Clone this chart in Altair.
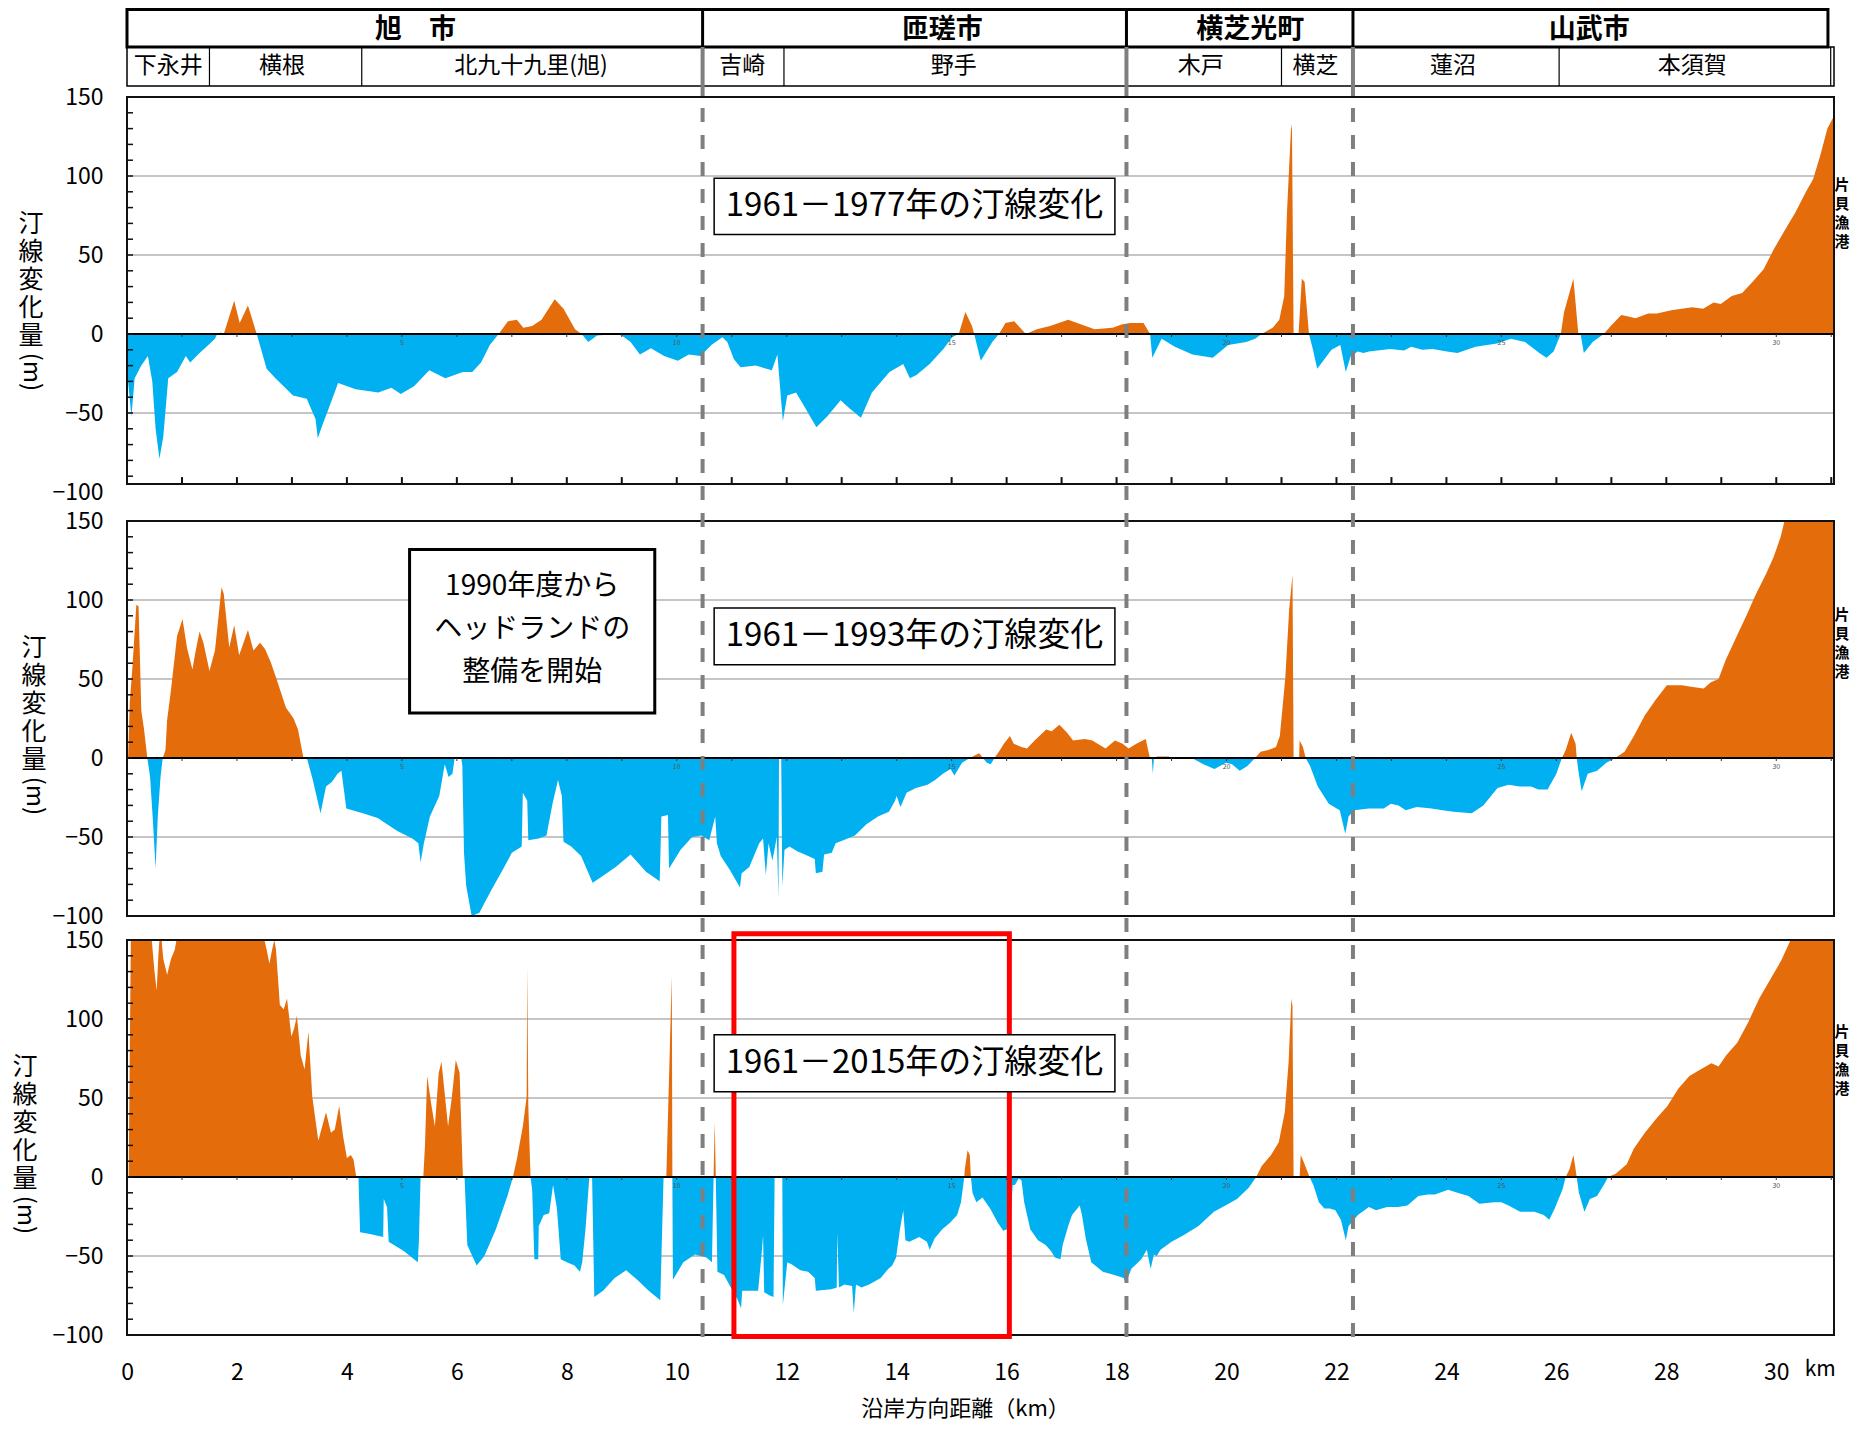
import altair as alt
import pandas as pd

# ---------------- data (km along coast, shoreline change in m) ----------------
P1_KM = [0.0, 0.02, 0.08, 0.14, 0.26, 0.38, 0.46, 0.52, 0.59, 0.66,
         0.75, 0.91, 1.07, 1.15, 1.32, 1.48, 1.6, 1.64, 1.7, 1.76,
         1.95, 2.05, 2.2, 2.36, 2.54, 2.7, 3.02, 3.27, 3.43, 3.47,
         3.55, 3.67, 3.84, 4.16, 4.57, 4.81, 4.98, 5.22, 5.5, 5.79,
         6.11, 6.28, 6.44, 6.6, 6.76, 6.93, 7.09, 7.21, 7.37, 7.54,
         7.78, 7.94, 8.15, 8.27, 8.39, 8.55, 8.88, 9.0, 9.16, 9.33,
         9.53, 9.77, 10.02, 10.22, 10.43, 10.63, 10.83, 10.92, 11.04, 11.16,
         11.44, 11.73, 11.83, 11.93, 12.01, 12.17, 12.34, 12.54, 12.74, 12.98,
         13.14, 13.35, 13.55, 13.87, 14.12, 14.24, 14.36, 14.6, 14.85, 15.01,
         15.13, 15.25, 15.37, 15.41, 15.53, 15.74, 15.86, 15.98, 16.14, 16.35,
         16.55, 16.79, 17.12, 17.36, 17.6, 17.93, 18.09, 18.25, 18.49, 18.61,
         18.65, 18.82, 19.06, 19.38, 19.75, 20.03, 20.36, 20.52, 20.64, 20.84,
         20.96, 21.05, 21.1, 21.17, 21.19, 21.22, 21.31, 21.37, 21.42, 21.5,
         21.57, 21.65, 21.78, 21.91, 22.07, 22.17, 22.26, 22.39, 22.49, 22.59,
         22.98, 23.23, 23.36, 23.56, 23.75, 24.01, 24.2, 24.53, 24.92, 25.17,
         25.43, 25.69, 25.82, 25.95, 26.08, 26.14, 26.31, 26.4, 26.44, 26.5,
         26.66, 26.86, 26.99, 27.18, 27.31, 27.44, 27.67, 27.83, 28.09, 28.28,
         28.47, 28.67, 28.86, 28.99, 29.19, 29.38, 29.57, 29.77, 29.96, 30.16,
         30.35, 30.54, 30.67, 30.8, 30.93, 31.05]
P1_VAL = [0, -30, -52, -28, -20, -14, -30, -60, -79, -65,
          -28, -24, -14, -18, -12, -7, -3, 0, 1, 0,
          21, 7, 18, 0, -22, -28, -39, -41, -54, -66,
          -58, -47, -31, -35, -37, -34, -38, -33, -23, -28,
          -24, -24, -18, -7, 0, 8, 9, 4, 5, 9,
          22, 16, 3, 0, -5, -1, 0, -1, -5, -13,
          -9, -14, -17, -13, -14, -7, -2, -5, -16, -21,
          -20, -23, -13, -55, -39, -37, -47, -59, -52, -42,
          -47, -53, -37, -24, -19, -28, -26, -19, -9.5, -2,
          0, 14, 5, 0, -17, -5, 0, 7, 8, 0,
          3, 5, 9, 6, 3, 4, 6, 7, 7, 0,
          -15, -3, -8, -13, -15, -7, -5, -3, 0, 4,
          9, 24, 77, 128, 133, 0, 0, 35, 33, 0,
          -9.5, -22, -16, -10, -7, -24, -14, -11, -12, -11,
          -9.5, -10.5, -8, -10, -9.5, -11, -12, -8, -6, -3,
          -5, -12, -15, -11, 0, 14, 35, 0, 0, -12,
          -5, 0, 5, 12, 11, 10, 13, 13, 15, 16,
          17, 16, 20, 19, 24, 26, 33, 41, 54, 66,
          77, 90, 98, 113, 130, 138]

P2_KM = [0.0, 0.02, 0.05, 0.1, 0.17, 0.21, 0.26, 0.31, 0.37, 0.42,
         0.47, 0.52, 0.56, 0.61, 0.65, 0.7, 0.73, 0.8, 0.91, 1.01,
         1.09, 1.19, 1.25, 1.32, 1.39, 1.5, 1.6, 1.72, 1.76, 1.86,
         1.95, 2.04, 2.2, 2.3, 2.42, 2.51, 2.61, 2.72, 2.89, 3.03,
         3.11, 3.21, 3.28, 3.38, 3.52, 3.62, 3.73, 3.83, 3.9, 3.99,
         4.29, 4.56, 4.91, 5.19, 5.3, 5.34, 5.4, 5.51, 5.68, 5.78,
         5.85, 5.92, 5.96, 6.08, 6.1, 6.13, 6.17, 6.27, 6.41, 6.62,
         6.83, 7.0, 7.18, 7.2, 7.28, 7.3, 7.49, 7.63, 7.74, 7.84,
         7.91, 7.94, 8.08, 8.26, 8.47, 8.64, 8.89, 9.16, 9.44, 9.69,
         9.72, 9.84, 9.86, 10.07, 10.28, 10.45, 10.59, 10.7, 10.73, 10.8,
         10.97, 11.15, 11.18, 11.32, 11.5, 11.57, 11.62, 11.67, 11.74, 11.82,
         11.85, 11.86, 11.9, 11.92, 11.96, 12.05, 12.19, 12.33, 12.51, 12.53,
         12.65, 12.68, 12.82, 12.89, 13.03, 13.24, 13.45, 13.66, 13.86, 13.97,
         14.0, 14.07, 14.18, 14.35, 14.56, 14.7, 14.84, 14.98, 15.05, 15.19,
         15.33, 15.5, 15.57, 15.64, 15.71, 15.78, 15.88, 15.95, 16.06, 16.13,
         16.27, 16.37, 16.51, 16.72, 16.82, 16.96, 17.1, 17.21, 17.42, 17.56,
         17.7, 17.8, 17.97, 18.11, 18.22, 18.36, 18.53, 18.6, 18.64, 18.66,
         18.68, 18.74, 18.95, 18.98, 19.37, 19.58, 19.78, 19.99, 20.1, 20.24,
         20.38, 20.52, 20.62, 20.76, 20.9, 20.97, 21.07, 21.14, 21.2, 21.22,
         21.32, 21.33, 21.39, 21.44, 21.52, 21.66, 21.86, 22.06, 22.16, 22.22,
         22.32, 22.59, 22.86, 22.99, 23.13, 23.26, 23.46, 23.73, 23.93, 24.13,
         24.46, 24.67, 24.93, 25.13, 25.33, 25.54, 25.67, 25.84, 26.0, 26.1,
         26.17, 26.27, 26.35, 26.37, 26.4, 26.46, 26.57, 26.74, 26.91, 27.07,
         27.24, 27.41, 27.61, 27.81, 28.01, 28.28, 28.48, 28.68, 28.81, 28.95,
         29.08, 29.28, 29.48, 29.62, 29.82, 29.95, 30.08, 30.15, 31.05]
P2_VAL = [0, 0, 35, 58, 97, 96, 30, 18, 0, -12,
          -39, -70, -37, -12, 0, 5, 24, 43, 77, 88,
          70, 56, 68, 80, 73, 55, 68, 108, 104, 70,
          84, 65, 81, 68, 73, 69, 61, 50, 32, 25,
          18, 0, -1, -14, -35, -18, -15, -10, -8, -32,
          -35, -38, -46, -51, -54, -66, -54, -37, -24, -4,
          -12, -10, 0, 0, -5, -60, -81, -100, -98, -84,
          -71, -60, -56, -22, -27, -52, -51, -49, -29, -14,
          -24, -53, -56, -62, -79, -75, -69, -61, -72, -78,
          -37, -36, -70, -58, -50, -49, -52, -37, -54, -62,
          -71, -82, -73, -69, -54, -51, -74, -54, -65, -50,
          -89, 0, 0, -81, -58, -56, -59, -61, -64, -73,
          -72, -61, -60, -54, -52, -49, -42, -37, -34, -27,
          -24, -31, -22, -19, -17, -14, -10, -7, -11, -3,
          0, 3, 0, -3, -4, 0, 5, 9, 14, 9,
          7, 6, 11, 18, 17, 21, 16, 11, 12, 11,
          8, 6, 11, 9, 6, 9, 12, 1, 0, -10,
          0, 1, 1, 0, 0, -4, -7, -3, -4, -8,
          -5, 0, 4, 5, 7, 14, 51, 94, 116, 0,
          0, 11, 7, 0, -5, -18, -29, -33, -48, -37,
          -33, -32, -32, -29, -30, -33, -31, -32, -33, -34,
          -35, -30, -19, -17, -18, -18, -20, -20, -10, 0,
          5, 16, 9, 0, -8, -21, -10, -8, -3, 0,
          4, 14, 27, 37, 46, 46, 45, 44, 48, 50,
          62, 77, 92, 103, 117, 127, 140, 150, 150]

P3_KM = [0.0, 0.03, 0.07, 0.45, 0.5, 0.54, 0.57, 0.59, 0.63, 0.66,
         0.73, 0.8, 0.87, 0.9, 2.5, 2.54, 2.59, 2.64, 2.68, 2.71,
         2.78, 2.85, 2.91, 2.99, 3.04, 3.09, 3.16, 3.23, 3.3, 3.37,
         3.48, 3.62, 3.71, 3.78, 3.86, 3.93, 4.0, 4.07, 4.12, 4.17,
         4.21, 4.24, 4.42, 4.66, 4.67, 4.73, 4.76, 5.04, 5.29, 5.31,
         5.34, 5.39, 5.42, 5.46, 5.53, 5.6, 5.67, 5.72, 5.77, 5.84,
         5.91, 5.98, 6.05, 6.11, 6.14, 6.19, 6.36, 6.5, 6.71, 6.92,
         7.02, 7.09, 7.2, 7.27, 7.28, 7.3, 7.34, 7.37, 7.41, 7.48,
         7.49, 7.58, 7.68, 7.75, 7.82, 7.89, 8.0, 8.14, 8.24, 8.28,
         8.34, 8.41, 8.46, 8.5, 8.66, 8.87, 9.08, 9.28, 9.49, 9.7,
         9.76, 9.81, 9.85, 9.89, 9.91, 9.92, 9.93, 10.12, 10.33, 10.54,
         10.64, 10.67, 10.69, 10.71, 10.74, 10.86, 11.0, 11.1, 11.17, 11.19,
         11.48, 11.55, 11.57, 11.59, 11.69, 11.76, 11.78, 11.92, 11.93, 12.01,
         12.08, 12.25, 12.39, 12.51, 12.53, 12.81, 12.91, 12.92, 12.95, 13.05,
         13.19, 13.22, 13.26, 13.36, 13.5, 13.71, 13.85, 13.92, 13.99, 14.06,
         14.12, 14.16, 14.23, 14.41, 14.55, 14.6, 14.69, 14.83, 14.97, 15.1,
         15.17, 15.23, 15.24, 15.29, 15.33, 15.35, 15.38, 15.45, 15.56, 15.7,
         15.84, 15.94, 16.01, 16.08, 16.11, 16.15, 16.22, 16.27, 16.32, 16.43,
         16.57, 16.71, 16.81, 16.88, 16.98, 17.02, 17.12, 17.19, 17.33, 17.37,
         17.44, 17.54, 17.75, 17.96, 18.13, 18.17, 18.27, 18.45, 18.55, 18.62,
         18.68, 18.73, 18.8, 19.0, 19.21, 19.49, 19.77, 19.98, 20.19, 20.4,
         20.54, 20.64, 20.81, 20.95, 21.06, 21.13, 21.18, 21.2, 21.22, 21.33,
         21.35, 21.41, 21.51, 21.58, 21.68, 21.78, 21.88, 21.98, 22.08, 22.17,
         22.22, 22.39, 22.59, 22.72, 22.92, 23.12, 23.29, 23.49, 23.66, 23.79,
         24.03, 24.2, 24.4, 24.6, 24.87, 25.0, 25.13, 25.34, 25.6, 25.77,
         25.87, 25.97, 26.11, 26.17, 26.24, 26.31, 26.37, 26.41, 26.51, 26.61,
         26.74, 26.88, 26.94, 27.08, 27.28, 27.41, 27.61, 27.82, 28.02, 28.22,
         28.42, 28.62, 28.82, 28.95, 29.09, 29.29, 29.49, 29.69, 29.89, 30.09,
         30.26, 31.05]
P3_VAL = [0, 0, 150, 150, 130, 118, 140, 150, 150, 138,
          128, 138, 144, 150, 150, 144, 135, 144, 150, 144,
          109, 106, 113, 89, 94, 102, 77, 68, 92, 51,
          23, 41, 28, 30, 45, 26, 12, 14, 11, 0,
          0, -35, -36, -38, -14, -19, -41, -47, -54, -40,
          0, 0, 20, 64, 47, 32, 66, 73, 56, 32,
          51, 74, 66, 0, 0, -43, -56, -50, -33, -12,
          0, 11, 32, 51, 133, 45, 0, -8, -52, -52,
          -31, -24, -23, -5, -20, -52, -54, -56, -60, -54,
          -33, 0, 0, -76, -72, -64, -59, -65, -72, -78,
          0, 0, 51, 102, 127, 0, -65, -54, -49, -51,
          -54, 0, 35, 0, -60, -62, -71, -77, -83, -72,
          -72, -46, -37, -73, -75, -76, 0, 0, -81, -54,
          -55, -59, -60, -64, -72, -71, -70, -35, -70, -68,
          -69, -86, -68, -70, -68, -64, -58, -56, -51, -33,
          -21, -40, -41, -38, -41, -46, -39, -33, -29, -24,
          -16, 0, 5, 17, 14, 0, -10, -16, -13, -20,
          -29, -34, -33, -21, -5, -5, -1, -2, -16, -33,
          -40, -43, -47, -51, -52, -43, -31, -24, -18, -24,
          -39, -54, -60, -62, -64, -67, -58, -52, -46, -58,
          -49, -50, -46, -41, -37, -31, -22, -18, -14, -7,
          0, 7, 14, 22, 41, 73, 113, 108, 0, 0,
          14, 9, 0, -5, -16, -20, -20, -21, -27, -40,
          -31, -24, -19, -21, -19, -19, -18, -12, -11, -11,
          -8, -10, -12, -17, -16, -16, -18, -22, -22, -24,
          -27, -20, -8, 0, 5, 14, 0, -10, -22, -14,
          -12, -4, 0, 2, 8, 18, 28, 37, 45, 56,
          64, 68, 72, 70, 77, 85, 98, 113, 125, 137,
          150, 150]

PANEL_TITLES = ["1961－1977年の汀線変化", "1961－1993年の汀線変化", "1961－2015年の汀線変化"]
HEADLAND_NOTE = "1990年度から\nヘッドランドの\n整備を開始"
Y_TITLE_CHARS = ["汀", "線", "変", "化", "量"]
Y_UNIT = "(m)"
PORT_LABEL = "片\n貝\n漁\n港"
X_TITLE = "沿岸方向距離（km）"

CITY_NAMES = ["旭　市", "匝瑳市", "横芝光町", "山武市"]
CITY_LABEL_KM = [5.25, 14.83, 20.43, 26.6]
CITY_BOUNDS_KM = [10.47, 18.18, 22.3]
CITY_END_KM = 30.94
DISTRICT_NAMES = ["下永井", "横根", "北九十九里(旭)", "吉崎", "野手", "木戸", "横芝", "蓮沼", "本須賀"]
DISTRICT_LABEL_KM = [0.75, 2.82, 7.35, 11.19, 15.04, 19.53, 21.62, 24.12, 28.47]
DISTRICT_BOUNDS_KM = [1.5, 4.27, 11.95, 21.0, 26.05, 30.99]

Y_TICK_LABELS = [-100, -50, 0, 50, 100, 150]
GRID_VALUES = [100, 50, -50]
Y_MINOR = list(range(-90, 150, 10))
X_TICK_LABELS = list(range(0, 31, 2))
KM_TICKS = list(range(1, 32))
ZERO_LABELS = [5, 10, 15, 20, 25, 30]

# ---------------- layout / style ----------------
FONT = "Noto Sans CJK JP"
ORANGE = "#E46C0A"
BLUE = "#00B0F0"
GRID_C = "#8C8C8C"
DASH_C = "#7F7F7F"

W = 1707
K = 395 / 250          # px per metre
XMAX = 31.05
H_HEAD = 89
H_PANEL = [424, 419, 399]
FRAME_BOTTOM = [-95, -100, -100]
BOX_Y = [(63, 98.5), (59, 95), (54, 90)]
BOX_KM = (10.68, 17.97)
YT_X = [-96, -93, -102]
PORT_Y = [99, 95, 96]

XS = alt.Scale(domain=[0, XMAX], nice=False, zero=False)


def one(**kw):
    return pd.DataFrame({k: [v] for k, v in kw.items()})


def panel(idx, km, val):
    H = H_PANEL[idx]
    YS = alt.Scale(domain=[150 - H / K, 150], nice=False, zero=False)
    last = idx == 2

    yaxis = alt.Axis(values=Y_TICK_LABELS, labelFont=FONT, labelFontSize=23, labelColor="#000",
                     domain=False, ticks=False, tickSize=0, grid=False, labelPadding=24, title=None)
    if last:
        xaxis = alt.Axis(values=X_TICK_LABELS, labelFont=FONT, labelFontSize=23, labelColor="#000",
                         domain=False, ticks=False, tickSize=0, grid=False, labelPadding=22,
                         labelFlush=False, title=X_TITLE, titleFont=FONT, titleFontSize=22,
                         titleFontWeight="normal", titleColor="#000", titlePadding=14,
                         titleX=838, titleAlign="center")
    else:
        xaxis = None

    def xf(field):
        return alt.X(f"{field}:Q", scale=XS, axis=xaxis)

    def yf(field):
        return alt.Y(f"{field}:Q", scale=YS, axis=yaxis)

    d = pd.DataFrame({"km": km, "v": val})
    d["pos"] = d["v"].clip(lower=0)
    d["neg"] = d["v"].clip(upper=0)
    d["z"] = 0.0

    L = []
    L.append(alt.Chart(pd.DataFrame({"g": GRID_VALUES})).mark_rule(color=GRID_C, strokeWidth=1.2)
             .encode(y=yf("g")))
    L.append(alt.Chart(d).mark_area(color=BLUE, interpolate="linear")
             .encode(x=xf("km"), y=yf("neg"), y2=alt.Y2("z")))
    L.append(alt.Chart(d).mark_area(color=ORANGE, interpolate="linear")
             .encode(x=xf("km"), y=yf("pos"), y2=alt.Y2("z")))
    L.append(alt.Chart(one(z=0)).mark_rule(color="#000", strokeWidth=2).encode(y=yf("z")))
    L.append(alt.Chart(one(a=150, b=FRAME_BOTTOM[idx])).mark_rect(fillOpacity=0, stroke="#111", strokeWidth=2)
             .encode(x=alt.value(0), x2=alt.value(W), y=yf("a"), y2=alt.Y2("b")))
    L.append(alt.Chart(pd.DataFrame({"t": Y_MINOR})).mark_rule(color="#111", strokeWidth=1.5)
             .encode(y=yf("t"), x=alt.value(0), x2=alt.value(6)))
    zt = pd.DataFrame({"k": KM_TICKS})
    zt["a"] = 0.0
    zt["b"] = -3 / K
    L.append(alt.Chart(zt).mark_rule(color="#333", strokeWidth=1)
             .encode(x=xf("k"), y=yf("a"), y2=alt.Y2("b")))
    zl = pd.DataFrame({"k": ZERO_LABELS})
    zl["y"] = -9 / K
    L.append(alt.Chart(zl).mark_text(font=FONT, fontSize=7, color="#555")
             .encode(x=xf("k"), y=yf("y"), text="k:N"))
    if idx == 0:
        bt = pd.DataFrame({"k": KM_TICKS})
        bt["a"] = FRAME_BOTTOM[0]
        bt["b"] = FRAME_BOTTOM[0] + 7 / K
        L.append(alt.Chart(bt).mark_rule(color="#111", strokeWidth=2)
                 .encode(x=xf("k"), y=yf("a"), y2=alt.Y2("b")))
    # y titles (vertical writing: one character per line)
    yt = pd.DataFrame({"t": Y_TITLE_CHARS})
    yt["y"] = [77.2 - i * 28 / K for i in range(len(Y_TITLE_CHARS))]
    L.append(alt.Chart(yt).mark_text(font=FONT, fontSize=25, baseline="top", align="center", color="#000")
             .encode(x=alt.value(YT_X[idx]), y=yf("y"), text="t:N"))
    L.append(alt.Chart(one(t=Y_UNIT, y=-24)).mark_text(font=FONT, fontSize=24, angle=90, baseline="middle",
                                                       align="center", color="#000")
             .encode(x=alt.value(YT_X[idx]), y=yf("y"), text="t:N"))
    L.append(alt.Chart(one(t=PORT_LABEL, y=PORT_Y[idx])).mark_text(font=FONT, fontSize=15, fontWeight="bold",
                                                                   lineBreak="\n", lineHeight=19, baseline="top",
                                                                   align="center", color="#000")
             .encode(x=alt.value(W + 8), y=yf("y"), text="t:N"))
    if idx == 1:
        L.append(alt.Chart(one(x0=5.14, x1=9.6, y0=28.5, y1=132)).mark_rect(fill="white", stroke="#000", strokeWidth=3)
                 .encode(x=xf("x0"), x2=alt.X2("x1"), y=yf("y0"), y2=alt.Y2("y1")))
        L.append(alt.Chart(one(x=7.37, y=108, t=HEADLAND_NOTE)).mark_text(font=FONT, fontSize=28, lineBreak="\n",
                                                                         lineHeight=43, baseline="middle",
                                                                         align="center", color="#000")
                 .encode(x=xf("x"), y=yf("y"), text="t:N"))
    if last:
        L.append(alt.Chart(one(x0=11.04, x1=16.05, y0=154, y1=-101)).mark_rect(fillOpacity=0, stroke="#FF0000",
                                                                               strokeWidth=5)
                 .encode(x=xf("x0"), x2=alt.X2("x1"), y=yf("y0"), y2=alt.Y2("y1")))
    b0, b1 = BOX_Y[idx]
    L.append(alt.Chart(one(x0=BOX_KM[0], x1=BOX_KM[1], y0=b0, y1=b1)).mark_rect(fill="white", stroke="#000",
                                                                                strokeWidth=1.5)
             .encode(x=xf("x0"), x2=alt.X2("x1"), y=yf("y0"), y2=alt.Y2("y1")))
    L.append(alt.Chart(one(x=sum(BOX_KM) / 2, y=(b0 + b1) / 2, t=PANEL_TITLES[idx]))
             .mark_text(font=FONT, fontSize=33, baseline="middle", align="center", color="#000")
             .encode(x=xf("x"), y=yf("y"), text="t:N"))
    if last:
        dl = pd.DataFrame({"k": CITY_BOUNDS_KM})
        L.append(alt.Chart(dl).mark_rule(color=DASH_C, strokeWidth=4)
                 .encode(x=xf("k"), y=alt.value(-893), y2=alt.value(-844)))
        L.append(alt.Chart(dl).mark_rule(color=DASH_C, strokeWidth=4, strokeDash=[14, 13])
                 .encode(x=xf("k"), y=alt.value(-832), y2=alt.value(400)))
        L.append(alt.Chart(one(x=30.8, t="km")).mark_text(font=FONT, fontSize=21, baseline="middle",
                                                          align="center", color="#000")
                 .encode(x=xf("x"), y=alt.value(430), text="t:N"))
    return alt.layer(*L).properties(width=W, height=H)


# ---------------- header (city / district rows) ----------------
def hx(field):
    return alt.X(f"{field}:Q", scale=XS, axis=None)


hl = []
hl.append(alt.Chart(one(a=0)).mark_rule(color="white", strokeWidth=1)
          .encode(x=alt.value(-118.5), y=alt.value(40), y2=alt.value(41)))
hl.append(alt.Chart(one(x0=0, x1=XMAX)).mark_rect(fillOpacity=0, stroke="#000", strokeWidth=1.5)
          .encode(x=hx("x0"), x2=alt.X2("x1"), y=alt.value(39), y2=alt.value(78)))
hl.append(alt.Chart(pd.DataFrame({"k": DISTRICT_BOUNDS_KM})).mark_rule(color="#000", strokeWidth=1.2)
          .encode(x=hx("k"), y=alt.value(39), y2=alt.value(78)))
hl.append(alt.Chart(one(x0=0, x1=CITY_END_KM)).mark_rect(fillOpacity=0, stroke="#000", strokeWidth=3)
          .encode(x=hx("x0"), x2=alt.X2("x1"), y=alt.value(1.5), y2=alt.value(39)))
hl.append(alt.Chart(pd.DataFrame({"k": CITY_BOUNDS_KM})).mark_rule(color="#000", strokeWidth=3)
          .encode(x=hx("k"), y=alt.value(1.5), y2=alt.value(39)))
hl.append(alt.Chart(pd.DataFrame({"k": CITY_LABEL_KM, "t": CITY_NAMES}))
          .mark_text(font=FONT, fontSize=27, fontWeight="bold", baseline="middle", align="center", color="#000")
          .encode(x=hx("k"), y=alt.value(22), text="t:N"))
hl.append(alt.Chart(pd.DataFrame({"k": DISTRICT_LABEL_KM, "t": DISTRICT_NAMES}))
          .mark_text(font=FONT, fontSize=23, baseline="middle", align="center", color="#000")
          .encode(x=hx("k"), y=alt.value(58), text="t:N"))
header = alt.layer(*hl).properties(width=W, height=H_HEAD)

p1 = panel(0, P1_KM, P1_VAL)
p2 = panel(1, P2_KM, P2_VAL)
p3 = panel(2, P3_KM, P3_VAL)

chart = alt.VConcatChart(vconcat=[header, p1, p2, p3], spacing=0, bounds="flush",
                         padding=0, background="white").configure_view(stroke=None)

chart.save("out.html", embed_options={"renderer": "svg", "actions": False})
